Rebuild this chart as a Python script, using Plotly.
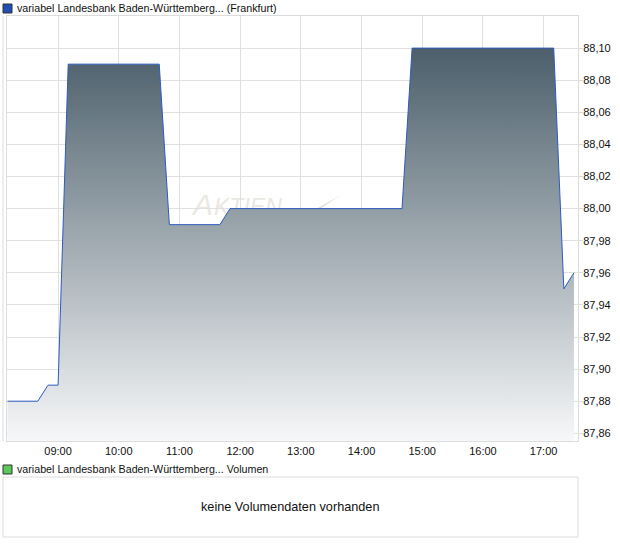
import base64
import plotly.graph_objects as go

# ---- data ----
times = ["08:10", "08:40", "08:50", "09:00", "09:10", "10:40", "10:50",
         "11:40", "11:50", "14:40", "14:50", "17:10", "17:20", "17:30"]
prices = [87.88, 87.88, 87.89, 87.89, 88.09, 88.09, 87.99,
          87.99, 88.00, 88.00, 88.10, 88.10, 87.95, 87.96]
y_ticks = [87.86, 87.88, 87.90, 87.92, 87.94, 87.96, 87.98,
           88.00, 88.02, 88.04, 88.06, 88.08, 88.10]
day = "2024-01-02"
x_vals = [f"{day} {t}" for t in times]

title_main = "variabel Landesbank Baden-Württemberg... (Frankfurt)"
title_vol = "variabel Landesbank Baden-Württemberg... Volumen"
no_vol_text = "keine Volumendaten vorhanden"

W, H = 620, 546
def px(x):
    return x / W
def py(y):
    return 1 - y / H

# watermark svg
svg = ('<svg xmlns="http://www.w3.org/2000/svg" width="160" height="40">'
       '<text x="2" y="32" font-family="Liberation Sans, Arial" font-style="italic" '
       'font-size="30" fill="#ebe7e3">A<tspan font-size="23" dx="1">KTIEN</tspan></text>'
       '<path d="M125 26 L 150 12 L 129 26 Z" fill="#e4e0dc"/></svg>')
svg_uri = "data:image/svg+xml;base64," + base64.b64encode(svg.encode()).decode()

fig = go.Figure()
fig.add_trace(go.Scatter(
    x=x_vals, y=prices, mode="lines",
    line=dict(color="#2a5cc0", width=1),
    fill="tozeroy",
    fillgradient=dict(type="vertical", start=87.855, stop=88.10,
                      colorscale=[[0, "#f7f8f9"], [1, "#4c5f6b"]]),
    hoverinfo="skip", showlegend=False,
))

font = dict(family="Liberation Sans, Arial, sans-serif", size=11, color="#111")
legend_font = dict(family="Liberation Sans, Arial, sans-serif", size=10.7, color="#111")

fig.update_layout(
    width=W, height=H,
    margin=dict(l=0, r=0, t=0, b=0),
    paper_bgcolor="white", plot_bgcolor="white",
    separators=",.",
    font=font,
    xaxis=dict(
        type="date",
        domain=[px(7), px(578)],
        range=[f"{day} 08:09:30", f"{day} 17:34:00"],
        tickformat="%H:%M", dtick=3600000, tick0=f"{day} 09:00",
        showgrid=True, gridcolor="#e0e0e0", gridwidth=1,
        showline=True, linecolor="#dcdcdc", mirror=True,
        ticks="", zeroline=False,
        tickfont=font,
    ),
    yaxis=dict(
        domain=[py(441), py(16)],
        range=[87.8552, 88.12],
        side="right", tickmode="array", tickvals=y_ticks, tickformat=".2f",
        showgrid=True, gridcolor="#e0e0e0", gridwidth=1,
        showline=True, linecolor="#dcdcdc", mirror=True,
        ticks="outside", ticklen=4, tickcolor="#dcdcdc",
        ticklabelstandoff=-2,
        zeroline=False, tickfont=font,
    ),
    images=[dict(source=svg_uri, xref="paper", yref="paper",
                 x=px(191), y=py(183), sizex=px(160), sizey=1 - py(40),
                 xanchor="left", yanchor="top", layer="below", sizing="stretch")],
    shapes=[
        dict(type="line", xref="paper", yref="paper", x0=px(3), x1=px(3),
             y0=py(16), y1=py(441), line=dict(color="#dcdcdc", width=1)),
        dict(type="rect", xref="paper", yref="paper", x0=px(3), x1=px(12),
             y0=py(13), y1=py(4), fillcolor="#1f4fb0", line=dict(color="#333", width=1)),
        dict(type="rect", xref="paper", yref="paper", x0=px(3), x1=px(12),
             y0=py(474), y1=py(465), fillcolor="#5ac85a", line=dict(color="#333", width=1)),
        dict(type="rect", xref="paper", yref="paper", x0=px(3), x1=px(578),
             y0=py(537), y1=py(477), fillcolor="white", line=dict(color="#dcdcdc", width=1)),
    ],
    annotations=[
        dict(text=title_main, xref="paper", yref="paper", x=px(15), y=py(8.5),
             xanchor="left", yanchor="middle", showarrow=False, font=legend_font),
        dict(text=title_vol, xref="paper", yref="paper", x=px(15), y=py(469),
             xanchor="left", yanchor="middle", showarrow=False, font=legend_font),
        dict(text=no_vol_text, xref="paper", yref="paper", x=px(290), y=py(507),
             xanchor="center", yanchor="middle", showarrow=False,
             font=dict(family="Liberation Sans, Arial, sans-serif", size=12.7, color="#111")),
    ],
)

fig.write_html(
    "out.html",
    config={"displayModeBar": False},
    post_script="document.body.style.margin='0';document.body.style.padding='0';",
)
